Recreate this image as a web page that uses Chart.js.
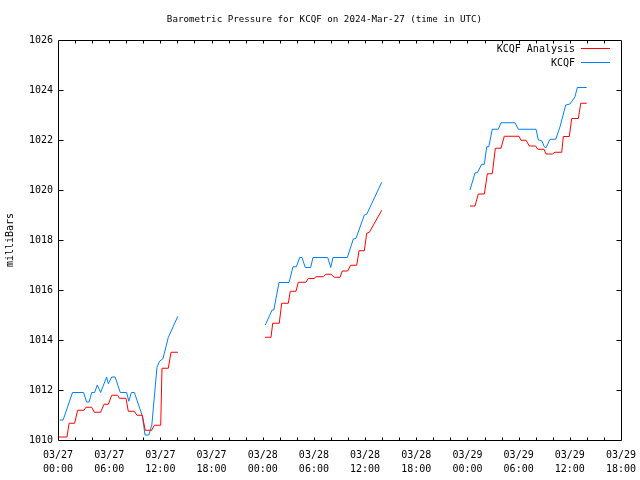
<!DOCTYPE html>
<html><head><meta charset="utf-8">
<script src="https://cdn.jsdelivr.net/npm/chart.js@4/dist/chart.umd.min.js"></script>
<style>html,body{margin:0;padding:0;background:#fff}</style>
</head><body>
<canvas id="c" width="640" height="480"></canvas>
<script>
// Hours since 2024-03-27 00:00 UTC; null pressure = gap in record
const analysisHours = [
  0.1,1.05,1.3,1.95,2.3,3.05,3.28,3.95,4.26,5.0,5.39,5.9,6.3,7.0,7.19,7.97,8.24,8.94,9.26,9.88,10.23,10.98,11.29,12.04,12.19,12.93,13.25,14.05,
  18,
  24.27,24.97,25.17,25.94,26.22,27.0,27.23,27.9,28.17,29.07,29.34,30.05,30.21,31.1,31.39,32.0,32.39,33.06,33.33,33.96,34.31,35.02,35.29,35.91,36.19,36.5,37.95,
  42,
  48.3,48.89,49.27,49.98,50.33,50.91,51.27,51.93,52.32,54.04,54.28,54.87,55.25,56.0,56.24,56.98,57.21,57.95,58.26,59.05,59.24,59.94,60.22,61.0,61.28,61.98
];
const analysisMb = [
  1010.12,1010.12,1010.67,1010.67,1011.19,1011.19,1011.31,1011.31,1011.11,1011.11,1011.43,1011.43,1011.79,1011.79,1011.67,1011.67,1011.15,1011.15,1010.99,1010.99,1010.39,1010.39,1010.59,1010.59,1012.87,1012.87,1013.51,1013.51,
  null,
  1014.11,1014.11,1014.67,1014.67,1015.47,1015.47,1015.95,1015.95,1016.31,1016.31,1016.46,1016.46,1016.53,1016.53,1016.63,1016.63,1016.51,1016.51,1016.76,1016.76,1016.99,1016.99,1017.57,1017.57,1018.27,1018.31,1019.19,
  null,
  1019.36,1019.36,1019.84,1019.84,1020.65,1020.65,1021.67,1021.67,1022.15,1022.15,1021.99,1021.99,1021.76,1021.76,1021.63,1021.63,1021.44,1021.44,1021.51,1021.51,1022.14,1022.14,1022.86,1022.86,1023.47,1023.47
];
const kcqfHours = [
  0.2,0.6,1.7,3.0,3.35,3.65,3.95,4.3,4.6,5.0,5.7,5.9,6.3,6.7,7.3,8.05,8.3,8.6,8.95,9.9,10.2,10.65,11.0,11.6,11.9,12.3,12.93,13.52,14.05,
  18,
  24.3,25.1,25.3,25.91,27.08,27.55,27.94,28.34,28.6,28.99,29.62,29.89,31.62,31.97,32.24,33.92,34.62,34.94,35.91,36.19,37.95,
  42,
  48.3,48.89,49.16,49.67,49.98,50.26,50.5,50.91,51.62,51.93,53.58,53.96,56.04,56.31,56.71,57.01,57.21,57.68,58.35,58.85,59.52,60.02,60.61,60.88,61.98
];
const kcqfMb = [
  1010.8,1010.8,1011.9,1011.9,1011.52,1011.52,1011.9,1011.9,1012.2,1011.9,1012.52,1012.25,1012.52,1012.52,1011.9,1011.9,1011.55,1011.9,1011.9,1010.95,1010.2,1010.2,1010.6,1012.9,1013.15,1013.25,1014.1,1014.55,1014.95,
  null,
  1014.6,1015.2,1015.2,1016.3,1016.3,1016.93,1016.93,1017.3,1017.3,1016.9,1016.9,1017.3,1017.3,1016.9,1017.3,1017.3,1018.04,1018.07,1019.0,1019.03,1020.31,
  null,
  1020.0,1020.69,1020.69,1021.03,1021.03,1021.73,1021.73,1022.43,1022.43,1022.69,1022.69,1022.43,1022.43,1022.0,1021.97,1021.73,1021.69,1022.03,1022.03,1022.53,1023.4,1023.44,1023.73,1024.1,1024.1
];
const xTickHours = [0,6,12,18,24,30,36,42,48,54,60,66];
const xTickLabels = [["03/27","00:00"],["03/27","06:00"],["03/27","12:00"],["03/27","18:00"],
  ["03/28","00:00"],["03/28","06:00"],["03/28","12:00"],["03/28","18:00"],
  ["03/29","00:00"],["03/29","06:00"],["03/29","12:00"],["03/29","18:00"]];
const xMinorStep = 2;
const yTicks = [1010,1012,1014,1016,1018,1020,1022,1024,1026];
const seriesNames = ["KCQF Analysis","KCQF"];
const seriesColors = ["#ff0000","#0080ff"];
const chartTitle = 'Barometric Pressure for KCQF on 2024-Mar-27 (time in UTC)';

const FONT = "'DejaVu Sans Mono', 'Liberation Mono', monospace";
const toPts = (hs, vs) => hs.map((h, i) => ({x: h, y: vs[i]}));

const framePlugin = {
  id: 'frame',
  afterDatasetsDraw(chart) {
    const {ctx, chartArea: a, scales: {x, y}} = chart;
    ctx.save();
    ctx.strokeStyle = '#000';
    ctx.lineWidth = 1;
    const L = Math.round(a.left) + 0.5, R = Math.round(a.right) + 0.5;
    const T = Math.round(a.top) + 0.5, B = Math.round(a.bottom) + 0.5;
    ctx.beginPath();
    ctx.rect(L, T, R - L, B - T);
    for (let h = x.min + xMinorStep; h < x.max; h += xMinorStep) {
      const px = Math.round(x.getPixelForValue(h)) + 0.5;
      ctx.moveTo(px, B); ctx.lineTo(px, B - 3);
      ctx.moveTo(px, T); ctx.lineTo(px, T + 3);
    }
    yTicks.forEach(v => {
      if (v === y.min || v === y.max) return;
      const py = Math.round(y.getPixelForValue(v)) + 0.5;
      ctx.moveTo(L, py); ctx.lineTo(L + 5, py);
      ctx.moveTo(R, py); ctx.lineTo(R - 5, py);
    });
    ctx.stroke();
    // title
    ctx.fillStyle = '#000';
    ctx.font = '9.2px ' + FONT;
    ctx.textAlign = 'center';
    ctx.textBaseline = 'middle';
    ctx.fillText(chartTitle, 324.5, 19.5);
    // legend
    ctx.font = '10px ' + FONT;
    ctx.textAlign = 'right';
    chart.data.datasets.forEach((ds, i) => {
      const yy = 49 + i * 14;
      ctx.fillText(ds.label, 575, yy);
      ctx.beginPath();
      ctx.strokeStyle = ds.borderColor;
      ctx.moveTo(581, yy - 0.5);
      ctx.lineTo(610, yy - 0.5);
      ctx.stroke();
    });
    ctx.restore();
  }
};

new Chart(document.getElementById('c'), {
  type: 'line',
  data: {
    datasets: [
      {label: seriesNames[0], data: toPts(analysisHours, analysisMb), borderColor: seriesColors[0], borderWidth: 1, pointRadius: 0, tension: 0, spanGaps: false},
      {label: seriesNames[1], data: toPts(kcqfHours, kcqfMb), borderColor: seriesColors[1], borderWidth: 1, pointRadius: 0, tension: 0, spanGaps: false}
    ]
  },
  options: {
    responsive: false,
    animation: false,
    devicePixelRatio: 1,
    layout: {padding: {left: 0, right: 19, top: 40, bottom: 0}},
    plugins: {
      legend: {display: false},
      tooltip: {enabled: false},
      title: {display: false}
    },
    scales: {
      x: {
        type: 'linear', min: 0, max: 66,
        afterBuildTicks: s => { s.ticks = xTickHours.map(v => ({value: v})); },
        afterFit: s => { s.height = 40; s.paddingLeft = 0; s.paddingRight = 0; },
        grid: {display: false, drawTicks: false, tickLength: 0}, border: {display: false},
        ticks: {
          autoSkip: false, maxRotation: 0, minRotation: 0, padding: 8,
          color: '#000', font: {family: FONT, size: 10, lineHeight: 1.4},
          callback: v => xTickLabels[xTickHours.indexOf(v)]
        }
      },
      y: {
        min: 1010, max: 1026,
        afterBuildTicks: s => { s.ticks = yTicks.map(v => ({value: v})); },
        afterFit: s => { s.width = 58; s.paddingTop = 0; s.paddingBottom = 0; },
        grid: {display: false, drawTicks: false, tickLength: 0}, border: {display: false},
        ticks: {padding: 5, color: '#000', font: {family: FONT, size: 10}, callback: v => String(v)},
        title: {display: true, text: 'milliBars', color: '#000', font: {family: FONT, size: 10}, padding: {top: 4, bottom: 0}}
      }
    }
  },
  plugins: [framePlugin]
});
</script>
</body></html>
